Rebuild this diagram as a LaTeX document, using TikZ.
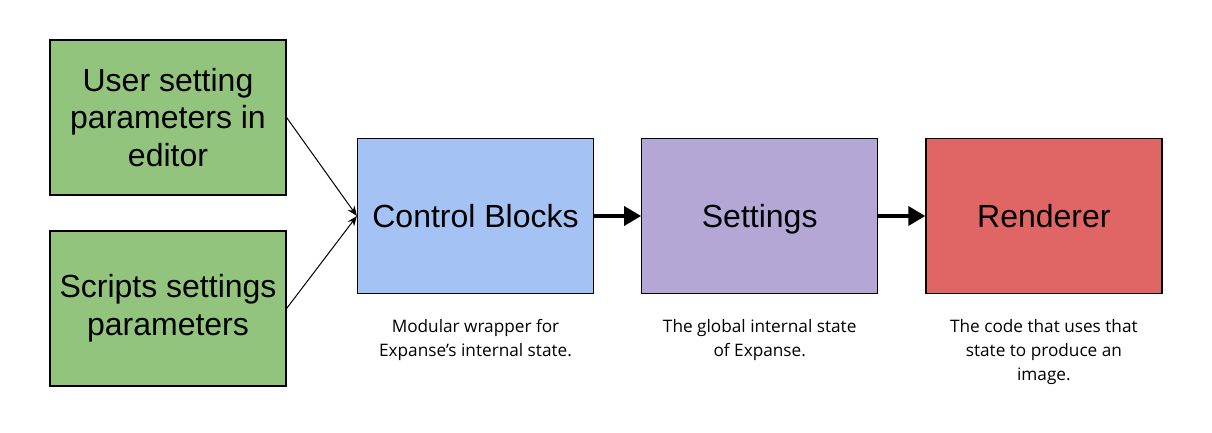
\documentclass[tikz,border=0pt]{standalone}
\usepackage{fontspec}
\setmainfont{Liberation Sans}
\newfontfamily\notefont{Open Sans}
\usetikzlibrary{arrows.meta,positioning}
\definecolor{usergreen}{HTML}{93C47D}
\definecolor{ctrlblue}{HTML}{A4C2F4}
\definecolor{setpurple}{HTML}{B4A7D6}
\definecolor{rendred}{HTML}{E06666}

\begin{document}
\begin{tikzpicture}[x=0.5pt, y=0.5pt, node distance=23.5pt, every node/.style={font=\fontsize{16}{18.8}\selectfont}, block/.style={draw,line width=0.6pt,minimum width=118pt,minimum height=77.5pt,align=center,inner sep=0pt}, note/.style={font=\notefont\fontsize{8.6}{12}\selectfont,align=center,inner sep=0pt}, arr/.style={-{Triangle[length=8.5pt,width=9.5pt]},line width=1.8pt}, feed/.style={-{Stealth[length=5pt,width=4pt]},line width=0.5pt}]
\useasboundingbox (0,0) rectangle (1212,433);
\node[block,fill=usergreen] (user) at (168,315.5) {User setting\\parameters in\\editor};
\node[block,fill=usergreen] (script) at (168,124.5) {Scripts settings\\parameters};
\node[block,fill=ctrlblue] (ctrl) at (475.5,217) {Control Blocks};
\node[block,fill=setpurple,text depth=0pt,right=of ctrl] (set) {Settings};
\node[block,fill=rendred,right=of set] (rend) {Renderer};
\node[note,below=12.5pt of ctrl] (ctrlnote) {Modular wrapper for\\Expanse’s internal state.};
\node[note,below=12.5pt of set] (setnote) {The global internal state\\of Expanse.};
\node[note,below=12.5pt of rend] (rendnote) {The code that uses that\\state to produce an\\image.};
\foreach \x in {user,script}{\draw[feed] (\x.east)--(ctrl.west);}
\foreach \x/\y in {ctrl/set,set/rend}{\draw[arr] (\x)--(\y);}
\end{tikzpicture}
\end{document}
